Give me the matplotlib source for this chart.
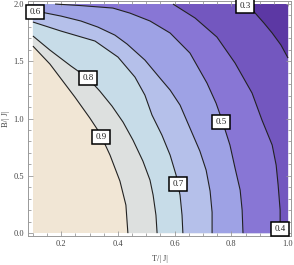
import matplotlib
matplotlib.use('Agg')
import matplotlib.pyplot as plt
from matplotlib.ticker import MultipleLocator, FormatStrFormatter

# contour levels and the lines (T/|J| and B/|J|)
levels = ['0.9', '0.8', '0.7', '0.6', '0.5', '0.4', '0.3']

t_09 = [0.100, 0.160, 0.248, 0.301, 0.336, 0.372, 0.407, 0.428, 0.435]
b_09 = [1.633, 1.476, 1.188, 1.004, 0.873, 0.681, 0.454, 0.245, 0.000]

t_08 = [0.100, 0.160, 0.234, 0.294, 0.336, 0.379, 0.418, 0.453, 0.488, 0.513, 0.524, 0.534, 0.538]
b_08 = [1.721, 1.598, 1.459, 1.354, 1.240, 1.109, 0.969, 0.812, 0.629, 0.463, 0.332, 0.157, 0.000]

t_07 = [0.100, 0.199, 0.319, 0.400, 0.460, 0.495, 0.520, 0.555, 0.584, 0.605, 0.619, 0.626, 0.629]
b_07 = [1.843, 1.764, 1.677, 1.537, 1.362, 1.205, 1.031, 0.856, 0.681, 0.507, 0.332, 0.157, 0.000]

t_06 = [0.100, 0.128, 0.199, 0.269, 0.329, 0.389, 0.432, 0.495, 0.548, 0.584, 0.619, 0.654, 0.689,
        0.711, 0.725, 0.732, 0.732]
b_06 = [1.948, 1.930, 1.895, 1.852, 1.799, 1.729, 1.651, 1.511, 1.354, 1.249, 1.118, 0.917, 0.716,
        0.550, 0.367, 0.183, 0.000]

t_05 = [0.178, 0.266, 0.382, 0.442, 0.513, 0.584, 0.654, 0.714, 0.746, 0.767, 0.795, 0.813, 0.831, 0.838, 0.841]
b_05 = [2.000, 1.987, 1.965, 1.921, 1.852, 1.747, 1.572, 1.310, 1.135, 0.987, 0.769, 0.568, 0.376, 0.201, 0.000]

t_04 = [0.594, 0.672, 0.749, 0.813, 0.873, 0.908, 0.944, 0.958, 0.965, 0.972, 0.972]
b_04 = [2.000, 1.878, 1.712, 1.485, 1.223, 0.987, 0.769, 0.594, 0.419, 0.201, 0.000]

t_03 = [0.859, 0.884, 0.915, 0.944, 0.975, 1.000]
b_03 = [2.000, 1.921, 1.834, 1.747, 1.642, 1.528]

curves = [(t_09, b_09), (t_08, b_08), (t_07, b_07), (t_06, b_06), (t_05, b_05), (t_04, b_04), (t_03, b_03)]

# band colours, from the highest band (>0.9) down to the lowest (<0.3)
colors = ['#F1E6D5', '#DDE0DF', '#C7DCE8', '#B5C0EA', '#9EA2E5', '#8876D5', '#7357BF', '#5C38A4']

T0, T1, B0, B1 = 0.1, 1.0, 0.0, 2.0

fig = plt.figure(figsize=(2.94, 2.65), dpi=100)
ax = fig.add_axes([0.095, 0.109, 0.895, 0.887])

ax.fill([T0, T1, T1, T0], [B0, B0, B1, B1], color=colors[0], lw=0)
for i, (t, b) in enumerate(curves):
    pt = list(t)
    pb = list(b)
    if pb[-1] == 0.0:
        pt.append(T1)
        pb.append(B0)
    pt += [T1, T0]
    pb += [B1, B1]
    ax.fill(pt, pb, color=colors[i + 1], lw=0)
for t, b in curves:
    ax.plot(t, b, color='#222222', lw=0.8, solid_capstyle='butt')

# contour labels
label_pos = [(0.340, 0.838), (0.294, 1.354), (0.612, 0.428), (0.107, 1.930),
             (0.764, 0.969), (0.972, 0.035), (0.848, 1.983)]
for lab, (x, y) in zip(levels, label_pos):
    ax.text(x, y, lab, ha='center', va='center', fontsize=6.5, family='Liberation Serif',
            color='#222222', zorder=5,
            bbox=dict(boxstyle='square,pad=0.35', fc='white', ec='black', lw=1.1))

ax.set_xlim(0.0824, 1.0106)
ax.set_ylim(-0.026, 2.026)
ax.xaxis.set_major_locator(MultipleLocator(0.2))
ax.xaxis.set_minor_locator(MultipleLocator(0.05))
ax.yaxis.set_major_locator(MultipleLocator(0.5))
ax.yaxis.set_minor_locator(MultipleLocator(0.1))
ax.xaxis.set_major_formatter(FormatStrFormatter('%.1f'))
ax.yaxis.set_major_formatter(FormatStrFormatter('%.1f'))
ax.tick_params(which='both', direction='in', top=True, right=True, color='#999999', width=0.6,
               labelsize=6, labelcolor='#444444', pad=3)
ax.tick_params(which='major', length=3.5)
ax.tick_params(which='minor', length=2)
for lbl in ax.get_xticklabels() + ax.get_yticklabels():
    lbl.set_family('Liberation Serif')
for s in ax.spines.values():
    s.set_color('#999999')
    s.set_linewidth(0.7)

ax.set_xlabel('T/| J|', fontsize=6, family='Liberation Serif', color='#444444', labelpad=5)
ax.set_ylabel('B/| J|', fontsize=6, family='Liberation Serif', color='#444444', labelpad=2)

fig.savefig('out.png', dpi=100)
